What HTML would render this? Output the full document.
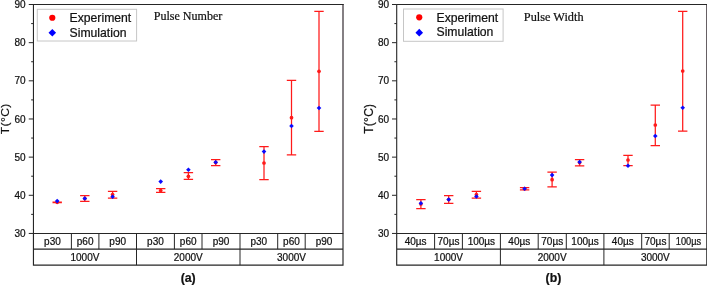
<!DOCTYPE html>
<html><head><meta charset="utf-8"><title>chart</title>
<style>
html,body{margin:0;padding:0;background:#fff;}
body{width:707px;height:285px;overflow:hidden;}
svg text{stroke:#111;stroke-width:0.22px;} svg{display:block;font-family:"Liberation Sans", sans-serif;will-change:transform;filter:grayscale(0);}
</style></head>
<body>
<svg width="707" height="285" viewBox="0 0 707 285">
<rect width="707" height="285" fill="#fff"/>
<line x1="343.0" y1="4.5" x2="343.0" y2="233.45" stroke="#666064" stroke-width="1.6"/>
<path d="M33.45 233.45V4.5H343.8" fill="none" stroke="#262626" stroke-width="1.1" stroke-linejoin="miter"/>
<line x1="28.750000000000004" y1="233.45" x2="33.45" y2="233.45" stroke="#262626" stroke-width="1"/>
<text x="25.5" y="237.10" text-anchor="end" font-size="10" fill="#111">30</text>
<line x1="31.150000000000002" y1="214.37" x2="33.45" y2="214.37" stroke="#262626" stroke-width="1"/>
<line x1="28.750000000000004" y1="195.29" x2="33.45" y2="195.29" stroke="#262626" stroke-width="1"/>
<text x="25.5" y="198.94" text-anchor="end" font-size="10" fill="#111">40</text>
<line x1="31.150000000000002" y1="176.21" x2="33.45" y2="176.21" stroke="#262626" stroke-width="1"/>
<line x1="28.750000000000004" y1="157.13" x2="33.45" y2="157.13" stroke="#262626" stroke-width="1"/>
<text x="25.5" y="160.78" text-anchor="end" font-size="10" fill="#111">50</text>
<line x1="31.150000000000002" y1="138.05" x2="33.45" y2="138.05" stroke="#262626" stroke-width="1"/>
<line x1="28.750000000000004" y1="118.97" x2="33.45" y2="118.97" stroke="#262626" stroke-width="1"/>
<text x="25.5" y="122.62" text-anchor="end" font-size="10" fill="#111">60</text>
<line x1="31.150000000000002" y1="99.90" x2="33.45" y2="99.90" stroke="#262626" stroke-width="1"/>
<line x1="28.750000000000004" y1="80.82" x2="33.45" y2="80.82" stroke="#262626" stroke-width="1"/>
<text x="25.5" y="84.47" text-anchor="end" font-size="10" fill="#111">70</text>
<line x1="31.150000000000002" y1="61.74" x2="33.45" y2="61.74" stroke="#262626" stroke-width="1"/>
<line x1="28.750000000000004" y1="42.66" x2="33.45" y2="42.66" stroke="#262626" stroke-width="1"/>
<text x="25.5" y="46.31" text-anchor="end" font-size="10" fill="#111">80</text>
<line x1="31.150000000000002" y1="23.58" x2="33.45" y2="23.58" stroke="#262626" stroke-width="1"/>
<line x1="28.750000000000004" y1="4.50" x2="33.45" y2="4.50" stroke="#262626" stroke-width="1"/>
<text x="25.5" y="8.15" text-anchor="end" font-size="10" fill="#111">90</text>
<path d="M343.0 233.45H33.45V265.05H343.0V232.95M33.45 249.1H343.0" fill="none" stroke="#262626" stroke-width="1.15"/>
<line x1="71.4" y1="233.45" x2="71.4" y2="249.1" stroke="#262626" stroke-width="1"/>
<line x1="98.9" y1="233.45" x2="98.9" y2="249.1" stroke="#262626" stroke-width="1"/>
<line x1="136.5" y1="233.45" x2="136.5" y2="265.05" stroke="#262626" stroke-width="1"/>
<line x1="174.4" y1="233.45" x2="174.4" y2="249.1" stroke="#262626" stroke-width="1"/>
<line x1="202.0" y1="233.45" x2="202.0" y2="249.1" stroke="#262626" stroke-width="1"/>
<line x1="240.0" y1="233.45" x2="240.0" y2="265.05" stroke="#262626" stroke-width="1"/>
<line x1="277.7" y1="233.45" x2="277.7" y2="249.1" stroke="#262626" stroke-width="1"/>
<line x1="305.2" y1="233.45" x2="305.2" y2="249.1" stroke="#262626" stroke-width="1"/>
<text x="52.43" y="244.8" text-anchor="middle" font-size="10" fill="#111">p30</text>
<text x="85.15" y="244.8" text-anchor="middle" font-size="10" fill="#111">p60</text>
<text x="117.70" y="244.8" text-anchor="middle" font-size="10" fill="#111">p90</text>
<text x="155.45" y="244.8" text-anchor="middle" font-size="10" fill="#111">p30</text>
<text x="188.20" y="244.8" text-anchor="middle" font-size="10" fill="#111">p60</text>
<text x="221.00" y="244.8" text-anchor="middle" font-size="10" fill="#111">p90</text>
<text x="258.85" y="244.8" text-anchor="middle" font-size="10" fill="#111">p30</text>
<text x="291.45" y="244.8" text-anchor="middle" font-size="10" fill="#111">p60</text>
<text x="324.10" y="244.8" text-anchor="middle" font-size="10" fill="#111">p90</text>
<text x="84.97" y="261.1" text-anchor="middle" font-size="10" fill="#111">1000V</text>
<text x="188.25" y="261.1" text-anchor="middle" font-size="10" fill="#111">2000V</text>
<text x="291.50" y="261.1" text-anchor="middle" font-size="10" fill="#111">3000V</text>
<path d="M57.2 202.0V202.6M52.5 202.0H61.900000000000006M52.5 202.6H61.900000000000006" stroke="#ff1a1a" stroke-width="1.25" fill="none"/>
<circle cx="57.2" cy="202.3" r="1.85" fill="#ff1a1a"/>
<path d="M84.8 195.5V201.4M80.1 195.5H89.5M80.1 201.4H89.5" stroke="#ff1a1a" stroke-width="1.25" fill="none"/>
<circle cx="84.8" cy="198.5" r="1.85" fill="#ff1a1a"/>
<path d="M112.6 191.4V198.0M107.89999999999999 191.4H117.3M107.89999999999999 198.0H117.3" stroke="#ff1a1a" stroke-width="1.25" fill="none"/>
<circle cx="112.6" cy="194.6" r="1.85" fill="#ff1a1a"/>
<path d="M160.7 188.7V192.4M156.0 188.7H165.39999999999998M156.0 192.4H165.39999999999998" stroke="#ff1a1a" stroke-width="1.25" fill="none"/>
<circle cx="160.7" cy="190.5" r="1.85" fill="#ff1a1a"/>
<path d="M188.4 172.6V179.4M183.70000000000002 172.6H193.1M183.70000000000002 179.4H193.1" stroke="#ff1a1a" stroke-width="1.25" fill="none"/>
<circle cx="188.4" cy="176.3" r="1.85" fill="#ff1a1a"/>
<path d="M215.7 159.7V165.6M211.0 159.7H220.39999999999998M211.0 165.6H220.39999999999998" stroke="#ff1a1a" stroke-width="1.25" fill="none"/>
<circle cx="215.7" cy="162.6" r="1.85" fill="#ff1a1a"/>
<path d="M264.0 146.7V179.5M259.3 146.7H268.7M259.3 179.5H268.7" stroke="#ff1a1a" stroke-width="1.25" fill="none"/>
<circle cx="264.0" cy="163.0" r="1.85" fill="#ff1a1a"/>
<path d="M291.5 80.3V154.9M286.8 80.3H296.2M286.8 154.9H296.2" stroke="#ff1a1a" stroke-width="1.25" fill="none"/>
<circle cx="291.5" cy="117.7" r="1.85" fill="#ff1a1a"/>
<path d="M319.0 11.4V131.3M314.3 11.4H323.7M314.3 131.3H323.7" stroke="#ff1a1a" stroke-width="1.25" fill="none"/>
<circle cx="319.0" cy="71.3" r="1.85" fill="#ff1a1a"/>
<path d="M57.2 198.79999999999998L59.5 201.1L57.2 203.4L54.900000000000006 201.1Z" fill="#0a0aff"/>
<path d="M84.8 196.2L87.1 198.5L84.8 200.8L82.5 198.5Z" fill="#0a0aff"/>
<path d="M112.6 194.39999999999998L114.89999999999999 196.7L112.6 199.0L110.3 196.7Z" fill="#0a0aff"/>
<path d="M160.7 179.29999999999998L163.0 181.6L160.7 183.9L158.39999999999998 181.6Z" fill="#0a0aff"/>
<path d="M188.4 167.39999999999998L190.70000000000002 169.7L188.4 172.0L186.1 169.7Z" fill="#0a0aff"/>
<path d="M215.7 159.89999999999998L218.0 162.2L215.7 164.5L213.39999999999998 162.2Z" fill="#0a0aff"/>
<path d="M264.0 149.29999999999998L266.3 151.6L264.0 153.9L261.7 151.6Z" fill="#0a0aff"/>
<path d="M291.5 123.7L293.8 126.0L291.5 128.3L289.2 126.0Z" fill="#0a0aff"/>
<path d="M319.0 105.7L321.3 108.0L319.0 110.3L316.7 108.0Z" fill="#0a0aff"/>
<rect x="37.3" y="9.3" width="99.3" height="31.7" fill="#fff" stroke="#c6c6c6" stroke-width="1"/>
<circle cx="52.3" cy="17.75" r="3.1" fill="#ff0000"/>
<path d="M52.3 28.999999999999996L56.099999999999994 32.8L52.3 36.599999999999994L48.5 32.8Z" fill="#0000ff"/>
<text x="69.6" y="21.8" font-size="12.2" fill="#111">Experiment</text>
<text x="69.6" y="36.6" font-size="12.2" fill="#111">Simulation</text>
<text x="153.7" y="19.9" font-size="12.05" font-family='"Liberation Serif", serif' fill="#111">Pulse Number</text>
<text transform="translate(8.75 118.75) rotate(-90) scale(1 0.945)" text-anchor="middle" font-size="12" letter-spacing="0.42" fill="#111">T(°C)</text>
<text x="188.2" y="282.45" text-anchor="middle" font-size="12.3" font-weight="bold" fill="#111">(a)</text>
<line x1="706.8" y1="4.5" x2="706.8" y2="233.45" stroke="#666064" stroke-width="1.6"/>
<path d="M396.7 233.45V4.5H707.5999999999999" fill="none" stroke="#262626" stroke-width="1.1" stroke-linejoin="miter"/>
<line x1="392.0" y1="233.45" x2="396.7" y2="233.45" stroke="#262626" stroke-width="1"/>
<text x="389.2" y="237.10" text-anchor="end" font-size="10" fill="#111">30</text>
<line x1="394.4" y1="214.37" x2="396.7" y2="214.37" stroke="#262626" stroke-width="1"/>
<line x1="392.0" y1="195.29" x2="396.7" y2="195.29" stroke="#262626" stroke-width="1"/>
<text x="389.2" y="198.94" text-anchor="end" font-size="10" fill="#111">40</text>
<line x1="394.4" y1="176.21" x2="396.7" y2="176.21" stroke="#262626" stroke-width="1"/>
<line x1="392.0" y1="157.13" x2="396.7" y2="157.13" stroke="#262626" stroke-width="1"/>
<text x="389.2" y="160.78" text-anchor="end" font-size="10" fill="#111">50</text>
<line x1="394.4" y1="138.05" x2="396.7" y2="138.05" stroke="#262626" stroke-width="1"/>
<line x1="392.0" y1="118.97" x2="396.7" y2="118.97" stroke="#262626" stroke-width="1"/>
<text x="389.2" y="122.62" text-anchor="end" font-size="10" fill="#111">60</text>
<line x1="394.4" y1="99.90" x2="396.7" y2="99.90" stroke="#262626" stroke-width="1"/>
<line x1="392.0" y1="80.82" x2="396.7" y2="80.82" stroke="#262626" stroke-width="1"/>
<text x="389.2" y="84.47" text-anchor="end" font-size="10" fill="#111">70</text>
<line x1="394.4" y1="61.74" x2="396.7" y2="61.74" stroke="#262626" stroke-width="1"/>
<line x1="392.0" y1="42.66" x2="396.7" y2="42.66" stroke="#262626" stroke-width="1"/>
<text x="389.2" y="46.31" text-anchor="end" font-size="10" fill="#111">80</text>
<line x1="394.4" y1="23.58" x2="396.7" y2="23.58" stroke="#262626" stroke-width="1"/>
<line x1="392.0" y1="4.50" x2="396.7" y2="4.50" stroke="#262626" stroke-width="1"/>
<text x="389.2" y="8.15" text-anchor="end" font-size="10" fill="#111">90</text>
<path d="M706.8 233.45H396.7V265.05H706.8V232.95M396.7 249.1H706.8" fill="none" stroke="#262626" stroke-width="1.15"/>
<line x1="434.6" y1="233.45" x2="434.6" y2="249.1" stroke="#262626" stroke-width="1"/>
<line x1="462.4" y1="233.45" x2="462.4" y2="249.1" stroke="#262626" stroke-width="1"/>
<line x1="500.4" y1="233.45" x2="500.4" y2="265.05" stroke="#262626" stroke-width="1"/>
<line x1="538.2" y1="233.45" x2="538.2" y2="249.1" stroke="#262626" stroke-width="1"/>
<line x1="566.3" y1="233.45" x2="566.3" y2="249.1" stroke="#262626" stroke-width="1"/>
<line x1="603.9" y1="233.45" x2="603.9" y2="265.05" stroke="#262626" stroke-width="1"/>
<line x1="641.7" y1="233.45" x2="641.7" y2="249.1" stroke="#262626" stroke-width="1"/>
<line x1="669.2" y1="233.45" x2="669.2" y2="249.1" stroke="#262626" stroke-width="1"/>
<text x="415.65" y="244.8" text-anchor="middle" font-size="10" fill="#111">40µs</text>
<text x="448.50" y="244.8" text-anchor="middle" font-size="10" fill="#111">70µs</text>
<text x="481.40" y="244.8" text-anchor="middle" font-size="10" fill="#111">100µs</text>
<text x="519.30" y="244.8" text-anchor="middle" font-size="10" fill="#111">40µs</text>
<text x="552.25" y="244.8" text-anchor="middle" font-size="10" fill="#111">70µs</text>
<text x="585.10" y="244.8" text-anchor="middle" font-size="10" fill="#111">100µs</text>
<text x="622.80" y="244.8" text-anchor="middle" font-size="10" fill="#111">40µs</text>
<text x="655.45" y="244.8" text-anchor="middle" font-size="10" fill="#111">70µs</text>
<text x="688.50" y="244.8" text-anchor="middle" font-size="10" fill="#111" textLength="25.4" lengthAdjust="spacingAndGlyphs">100µs</text>
<text x="448.55" y="261.1" text-anchor="middle" font-size="10" fill="#111">1000V</text>
<text x="552.15" y="261.1" text-anchor="middle" font-size="10" fill="#111">2000V</text>
<text x="655.35" y="261.1" text-anchor="middle" font-size="10" fill="#111">3000V</text>
<path d="M420.9 199.7V208.5M416.2 199.7H425.59999999999997M416.2 208.5H425.59999999999997" stroke="#ff1a1a" stroke-width="1.25" fill="none"/>
<circle cx="420.9" cy="204.0" r="1.85" fill="#ff1a1a"/>
<path d="M448.7 195.5V203.3M444.0 195.5H453.4M444.0 203.3H453.4" stroke="#ff1a1a" stroke-width="1.25" fill="none"/>
<circle cx="448.7" cy="199.5" r="1.85" fill="#ff1a1a"/>
<path d="M476.4 191.4V198.0M471.7 191.4H481.09999999999997M471.7 198.0H481.09999999999997" stroke="#ff1a1a" stroke-width="1.25" fill="none"/>
<circle cx="476.4" cy="194.6" r="1.85" fill="#ff1a1a"/>
<path d="M524.6 187.5V189.9M519.9 187.5H529.3000000000001M519.9 189.9H529.3000000000001" stroke="#ff1a1a" stroke-width="1.25" fill="none"/>
<circle cx="524.6" cy="188.7" r="1.85" fill="#ff1a1a"/>
<path d="M552.1 172.2V186.8M547.4 172.2H556.8000000000001M547.4 186.8H556.8000000000001" stroke="#ff1a1a" stroke-width="1.25" fill="none"/>
<circle cx="552.1" cy="179.7" r="1.85" fill="#ff1a1a"/>
<path d="M579.6 159.7V165.8M574.9 159.7H584.3000000000001M574.9 165.8H584.3000000000001" stroke="#ff1a1a" stroke-width="1.25" fill="none"/>
<circle cx="579.6" cy="162.6" r="1.85" fill="#ff1a1a"/>
<path d="M628.0 155.3V165.7M623.3 155.3H632.7M623.3 165.7H632.7" stroke="#ff1a1a" stroke-width="1.25" fill="none"/>
<circle cx="628.0" cy="160.0" r="1.85" fill="#ff1a1a"/>
<path d="M655.3 105.0V145.7M650.5999999999999 105.0H660.0M650.5999999999999 145.7H660.0" stroke="#ff1a1a" stroke-width="1.25" fill="none"/>
<circle cx="655.3" cy="125.0" r="1.85" fill="#ff1a1a"/>
<path d="M682.7 11.3V131.0M678.0 11.3H687.4000000000001M678.0 131.0H687.4000000000001" stroke="#ff1a1a" stroke-width="1.25" fill="none"/>
<circle cx="682.7" cy="71.0" r="1.85" fill="#ff1a1a"/>
<path d="M420.9 201.0L423.2 203.3L420.9 205.60000000000002L418.59999999999997 203.3Z" fill="#0a0aff"/>
<path d="M448.7 197.2L451.0 199.5L448.7 201.8L446.4 199.5Z" fill="#0a0aff"/>
<path d="M476.4 194.2L478.7 196.5L476.4 198.8L474.09999999999997 196.5Z" fill="#0a0aff"/>
<path d="M524.6 186.39999999999998L526.9 188.7L524.6 191.0L522.3000000000001 188.7Z" fill="#0a0aff"/>
<path d="M552.1 172.79999999999998L554.4 175.1L552.1 177.4L549.8000000000001 175.1Z" fill="#0a0aff"/>
<path d="M579.6 159.7L581.9 162.0L579.6 164.3L577.3000000000001 162.0Z" fill="#0a0aff"/>
<path d="M628.0 163.39999999999998L630.3 165.7L628.0 168.0L625.7 165.7Z" fill="#0a0aff"/>
<path d="M655.3 133.7L657.5999999999999 136.0L655.3 138.3L653.0 136.0Z" fill="#0a0aff"/>
<path d="M682.7 105.4L685.0 107.7L682.7 110.0L680.4000000000001 107.7Z" fill="#0a0aff"/>
<rect x="403.5" y="9.0" width="99.60000000000002" height="32.3" fill="#fff" stroke="#c6c6c6" stroke-width="1"/>
<circle cx="419.25" cy="17.35" r="3.1" fill="#ff0000"/>
<path d="M419.25 28.849999999999998L423.05 32.65L419.25 36.449999999999996L415.45 32.65Z" fill="#0000ff"/>
<text x="436.5" y="21.6" font-size="12.2" fill="#111">Experiment</text>
<text x="436.5" y="36.3" font-size="12.2" fill="#111">Simulation</text>
<text x="523.8" y="20.5" font-size="12.3" font-family='"Liberation Serif", serif' fill="#111">Pulse Width</text>
<text transform="translate(372.7 118.7) rotate(-90) scale(1 1)" text-anchor="middle" font-size="12" letter-spacing="0.25" fill="#111">T(°C)</text>
<text x="553.4" y="282.45" text-anchor="middle" font-size="12.3" font-weight="bold" fill="#111">(b)</text>
</svg>
</body></html>
